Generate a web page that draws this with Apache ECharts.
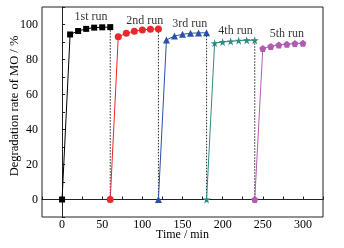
<!DOCTYPE html>
<html><head><meta charset="utf-8">
<script src="https://cdn.jsdelivr.net/npm/echarts@6/dist/echarts.min.js"></script>
<style>html,body{margin:0;padding:0;background:#fff}#c{width:344px;height:248px}</style>
</head><body><div id="c"></div>
<script>
const times = [0,10,20,30,40,50,60];
const runNames = ['1st run','2nd run','3rd run','4th run','5th run'];
const runOffsets = [0,60,120,180,240];
const run1 = [0,94.3,96.3,97.5,98.2,98.4,98.5];
const run2 = [0,93.0,95.0,96.2,96.9,97.3,97.5];
const run3 = [0,91.2,93.4,94.4,95.0,95.2,95.3];
const run4 = [0,89.4,90.0,90.4,90.8,91.0,91.0];
const run5 = [0,86.3,87.5,88.3,88.7,89.1,89.3];
const runColors = ['#000000','#e8282c','#2652a8','#2b8a84','#b15cb3'];
const runSymbols = ['rect','circle','triangle','path://M50,0 L61,35 L98,35 L68,57 L79,91 L50,70 L21,91 L32,57 L2,35 L39,35 Z','path://M50,0 L98,35 L79,91 L21,91 L2,35 Z'];
const runSizes = [6,7,7,8,7];
const labelPos = [[36,104.6],[103,102.3],[159,100.6],[216,96.5],[280,94.8]];
const runs = [run1,run2,run3,run4,run5];

const series = [];
runs.forEach((r,i)=>{
  series.push({
    type:'line', name:runNames[i],
    data: r.map((v,j)=>[times[j]+runOffsets[i], v]),
    symbol: runSymbols[i], symbolSize: runSizes[i],
    lineStyle:{color:runColors[i], width:1},
    itemStyle:{color:runColors[i]},
    z: 3
  });
  if (i < runs.length-1) {
    const x = times[times.length-1]+runOffsets[i];
    series.push({
      type:'line', symbol:'none',
      data:[[x, r[r.length-1]],[x, runs[i+1][0]]],
      lineStyle:{color:'#222', width:1, type:[1.5,1.5]},
      z: 2
    });
  }
});
series.push({
  type:'scatter', symbolSize:0,
  data: labelPos.map((p,i)=>({value:p, name:runNames[i]})),
  label:{show:true, position:'inside', formatter:p=>p.name, color:'#000',
    fontFamily:'Liberation Serif', fontSize:12},
  z: 4
});

const chart = echarts.init(document.getElementById('c'));
const axisFont = {fontFamily:'Liberation Serif', fontSize:12, color:'#000'};
chart.setOption({
  animation:false,
  grid:{left:42, right:21, top:7, bottom:31, show:true, borderColor:'#222', borderWidth:1,
    containLabel:false, outerBoundsMode:'none'},
  xAxis:{type:'value', min:-25, max:325, interval:25,
    axisLine:{show:true, lineStyle:{color:'#222'}},
    axisTick:{show:true, inside:true, length:3, lineStyle:{color:'#222'}},
    splitLine:{show:false},
    axisLabel:Object.assign({margin:2, formatter:v=> (v%50===0 && v>=0 && v<=300)? String(v):''}, axisFont),
    name:'Time / min', nameLocation:'middle', nameGap:12, nameMoveOverlap:false,
    nameTextStyle:{fontFamily:'Liberation Serif', fontSize:12, color:'#000'}
  },
  yAxis:{type:'value', min:-10, max:110, interval:10,
    axisLine:{show:true, lineStyle:{color:'#222'}},
    axisTick:{show:true, inside:true, length:3, lineStyle:{color:'#222'}},
    splitLine:{show:false},
    axisLabel:Object.assign({margin:4, formatter:v=> (v%20===0 && v>=0 && v<=100)? String(v):''}, axisFont),
    name:'Degradation rate of MO / %', nameLocation:'middle', nameGap:21, nameMoveOverlap:false,
    nameTextStyle:{fontFamily:'Liberation Serif', fontSize:12.5, color:'#000', padding:[0,0,0,12]}
  },
  series: series
});
</script></body></html>
